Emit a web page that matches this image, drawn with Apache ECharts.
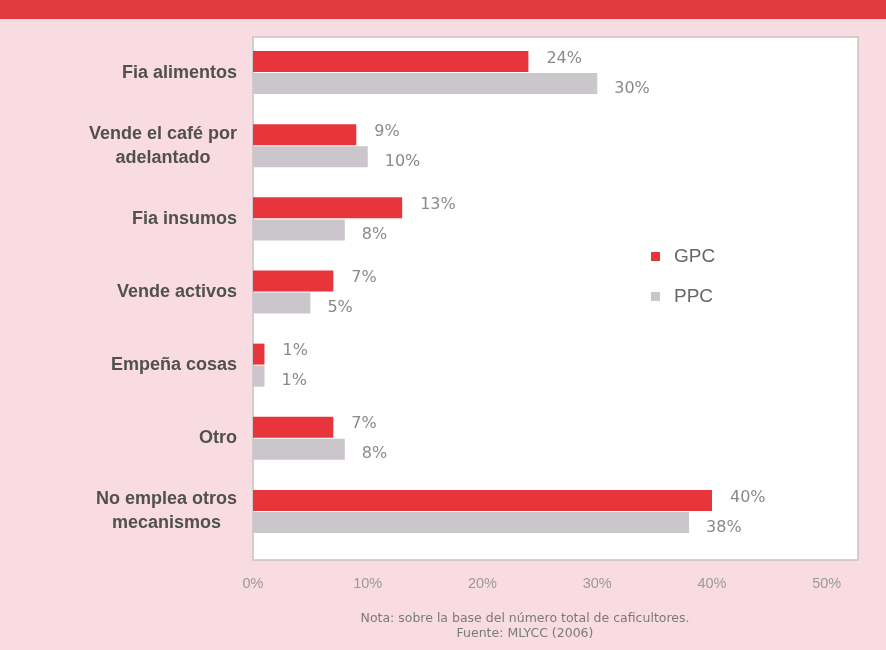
<!DOCTYPE html>
<html>
<head>
<meta charset="utf-8">
<script src="https://cdn.jsdelivr.net/npm/echarts@6/dist/echarts.min.js"></script>
<style>
html,body{margin:0;padding:0;background:#f9dbe2;}
#c{width:886px;height:650px;}
</style>
</head>
<body>
<div id="c"></div>
<script>
var categories = ['Fia alimentos', 'Vende el café por\nadelantado', 'Fia insumos', 'Vende activos', 'Empeña cosas', 'Otro', 'No emplea otros\nmecanismos'];
var gpc = [24, 9, 13, 7, 1, 7, 40];
var ppc = [30, 10, 8, 5, 1, 8, 38];
var seriesNames = ['GPC', 'PPC'];
var xTicks = [0, 10, 20, 30, 40, 50];
var noteLines = ['Nota: sobre la base del número total de caficultores.', 'Fuente: MLYCC (2006)'];

var chart = echarts.init(document.getElementById('c'), null, {renderer: 'canvas'});
var labelStyle = {color: '#8a8a8a', fontSize: 16, fontFamily: 'DejaVu Sans, sans-serif'};
chart.setOption({
  backgroundColor: '#f9dbe2',
  animation: false,
  graphic: [
    {type: 'rect', shape: {x: 0, y: 0, width: 886, height: 19}, style: {fill: '#e23b3f'}, z: -1},
    {type: 'rect', shape: {x: 253, y: 37, width: 605, height: 523}, style: {fill: '#ffffff', stroke: '#c8c4c6', lineWidth: 1.5}, z: -1},
    {type: 'text', x: 525, y: 611, style: {text: noteLines.join('\n'), fill: '#7a7a7a', font: '12.5px DejaVu Sans, sans-serif', textAlign: 'center', lineHeight: 15}}
  ],
  legend: {
    orient: 'vertical',
    left: 646,
    top: 242,
    itemWidth: 9,
    itemHeight: 9,
    itemGap: 21,
    icon: 'rect',
    textStyle: {color: '#666', fontSize: 19, fontFamily: 'Liberation Sans, Arial, sans-serif', padding: [0, 0, 0, 9]},
    data: seriesNames
  },
  grid: {left: 253, width: 573.75, top: 36, height: 512, containLabel: false},
  xAxis: {
    type: 'value',
    min: xTicks[0],
    max: xTicks[xTicks.length - 1],
    interval: 10,
    axisLine: {show: false},
    axisTick: {show: false},
    splitLine: {show: false},
    axisLabel: {
      color: '#9a9a9a', fontSize: 14.5, fontFamily: 'Liberation Sans, Arial, sans-serif',
      margin: 28,
      formatter: function (v) { return v + '%'; }
    }
  },
  yAxis: {
    type: 'category',
    inverse: true,
    data: categories,
    axisLine: {show: false},
    axisTick: {show: false},
    axisLabel: {
      margin: 16,
      formatter: function (v) {
        return v.split('\n').map(function (s) { return '{c|' + s + '}'; }).join('\n');
      },
      rich: {
        c: {color: '#505050', fontSize: 18, fontWeight: 'bold', fontFamily: 'Liberation Sans, Arial, sans-serif', lineHeight: 24, align: 'center'}
      }
    }
  },
  series: [
    {
      name: seriesNames[0], type: 'bar', data: gpc, barWidth: 21, barGap: '5%',
      itemStyle: {color: '#e8353c'},
      label: Object.assign({show: true, position: 'right', distance: 18, offset: [0, -3], formatter: '{c}%'}, labelStyle)
    },
    {
      name: seriesNames[1], type: 'bar', data: ppc, barWidth: 21,
      itemStyle: {color: '#cac6cb'},
      label: Object.assign({show: true, position: 'right', distance: 17, offset: [0, 5], formatter: '{c}%'}, labelStyle)
    }
  ]
});
</script>
</body>
</html>
